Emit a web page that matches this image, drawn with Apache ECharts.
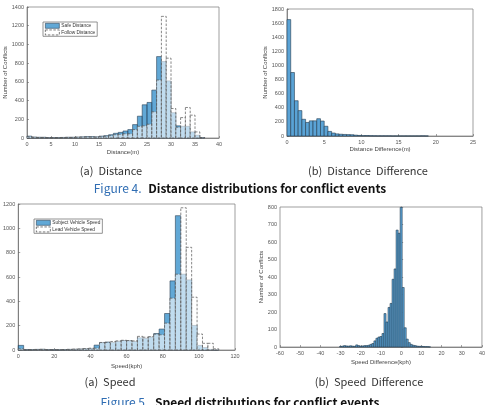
<!DOCTYPE html>
<html>
  <head>
    <meta charset="utf-8">
    <script src="https://cdn.jsdelivr.net/npm/echarts@6/dist/echarts.min.js"></script>
    <style>
      body { margin: 0; background: #fff; }
    </style>
  </head>
  <body>
    <div id="main" style="width: 488px;height:405px;"></div>
    <script type="text/javascript">
      // histogram counts (bin width noted next to each)
      // distance, 1 m bins from 0
      var safeDistance = [20, 10, 8, 8, 5, 5, 5, 6, 8, 8, 10, 12, 15, 15, 12, 20, 25, 35, 50, 60,
        75, 90, 143, 233, 355, 380, 512, 870, 817, 610, 270, 130, 125, 125, 65, 30, 5];
      var followDistance = [15, 8, 5, 5, 4, 4, 4, 5, 6, 6, 8, 10, 12, 12, 10, 15, 18, 25, 35, 40,
        45, 45, 90, 125, 130, 147, 280, 620, 1300, 853, 315, 115, 218, 326, 244, 65, 5];
      // distance difference, 0.5 m bins from 0
      var distanceDiff = [1650, 900, 500, 360, 237, 192, 215, 215, 245, 212, 138, 65, 42, 30, 25, 22,
        20, 18, 12, 8, 5, 6, 4, 3, 2, 2, 2, 2, 1, 1, 1, 1, 1, 1, 1, 1, 2, 1];
      // speed, 3 kph bins from 0
      var subjectSpeed = [38, 3, 3, 5, 6, 3, 2, 2, 3, 5, 6, 8, 10, 12, 40, 60, 65, 62, 70, 78, 75, 70,
        100, 95, 105, 135, 172, 300, 568, 1104, 623, 576, 202, 38, 20, 5, 2];
      var leadSpeed = [10, 2, 3, 4, 5, 3, 2, 3, 4, 5, 7, 8, 12, 15, 15, 62, 62, 70, 75, 80, 78, 75,
        112, 105, 110, 130, 125, 221, 426, 623, 1169, 844, 434, 131, 55, 55, 10];
      // speed difference, 1 kph bins from -30.5
      var speedDiff = [3, 5, 8, 6, 5, 7, 5, 4, 12, 8, 5, 6, 8, 8, 10, 15, 20, 35, 50, 57, 60, 77,
        191, 143, 226, 249, 387, 446, 668, 650, 798, 340, 110, 45, 25, 15, 10, 8, 5, 4, 4, 3, 2, 2, 1];

      var myChart = echarts.init(document.getElementById('main'));

      function bins(counts, start, width) {
        return counts.map(function (c, i) {
          return [start + i * width, start + (i + 1) * width, c];
        });
      }

      function histItem(params, api) {
        var p0 = api.coord([api.value(0), api.value(2)]);
        var p1 = api.coord([api.value(1), 0]);
        var st = api.style();
        return {
          type: 'rect',
          shape: { x: p0[0], y: p0[1], width: p1[0] - p0[0], height: p1[1] - p0[1] },
          style: st
        };
      }

      var tickFont = 'Liberation Sans';
      var plainNum = function (v) { return String(v); };
      function xAx(idx, min, max, interval, name, gap) {
        return {
          gridIndex: idx, type: 'value', min: min, max: max, interval: interval,
          name: name, nameLocation: 'middle', nameGap: gap,
          nameTextStyle: { fontSize: 6, color: '#444', fontFamily: tickFont },
          axisLine: { lineStyle: { color: '#666', width: 0.7 } },
          axisTick: { inside: true, length: 2, lineStyle: { color: '#666', width: 0.6 } },
          axisLabel: { fontSize: 5.5, color: '#555', margin: 3, fontFamily: tickFont, formatter: plainNum },
          splitLine: { show: false }
        };
      }
      function yAx(idx, max, interval, name) {
        return {
          gridIndex: idx, type: 'value', min: 0, max: max, interval: interval,
          name: name, nameLocation: 'middle', nameGap: 16,
          nameTextStyle: { fontSize: 6, color: '#444', fontFamily: tickFont },
          axisLine: { show: true, lineStyle: { color: '#666', width: 0.7 } },
          axisTick: { show: true, inside: true, length: 2, lineStyle: { color: '#666', width: 0.6 } },
          axisLabel: { fontSize: 5.5, color: '#555', margin: 3, fontFamily: tickFont, formatter: plainNum },
          splitLine: { show: false }
        };
      }

      var darkBar = { color: 'rgba(0,114,189,0.62)', borderColor: '#2b4256', borderWidth: 0.6 };
      var ghostBar = { color: 'rgba(255,255,255,0.6)', borderColor: '#555', borderWidth: 0.7, borderType: [2.5, 1.5] };
      var plainBar = { color: '#5aa3d6', borderColor: '#233a4e', borderWidth: 0.6 };

      function grid(l, t, w, h) {
        return { left: l, top: t, width: w, height: h, show: true, borderColor: '#777', borderWidth: 0.7, backgroundColor: '#fff' };
      }

      function legendBox(l, t, names) {
        return {
          left: l, top: t, orient: 'vertical', itemGap: 1, itemWidth: 14, itemHeight: 5,
          padding: [1, 2, 1, 2], backgroundColor: '#fff', borderColor: '#666', borderWidth: 0.7,
          selectedMode: false,
          textStyle: { fontSize: 4.8, color: '#333', fontFamily: tickFont, padding: [0, 0, 0, -3] },
          data: [
            { name: names[0], icon: 'rect', itemStyle: { color: 'rgba(0,114,189,0.62)', borderColor: '#2b4256', borderWidth: 0.6 } },
            { name: names[1], icon: 'rect', itemStyle: { color: '#fff', borderColor: '#444', borderWidth: 0.7, borderType: [2.5, 1.5] } }
          ]
        };
      }

      function subCaption(x, y, text) {
        return {
          type: 'text', x: x, y: y,
          style: { text: text, fill: '#333', fontSize: 11, fontFamily: 'Noto Sans CJK KR', textAlign: 'center', textVerticalAlign: 'middle' }
        };
      }
      function figCaption(y, num, text) {
        return {
          type: 'text', x: 240, y: y,
          style: {
            text: '{n|Figure ' + num + '.}  {t|' + text + '}',
            textAlign: 'center', textVerticalAlign: 'middle',
            rich: {
              n: { fill: '#2f6db3', fontSize: 12, fontFamily: 'Noto Sans CJK KR' },
              t: { fill: '#111', fontSize: 12, fontWeight: 'bold', fontFamily: 'Noto Sans CJK KR' }
            }
          }
        };
      }

      option = {
        animation: false,
        backgroundColor: '#fff',
        grid: [
          grid(27, 7, 192, 131),
          grid(287, 9, 186, 127),
          grid(17, 204, 218, 146),
          grid(280, 207, 204, 140)
        ],
        xAxis: [
          xAx(0, 0, 40, 5, 'Distance(m)', 11),
          xAx(1, 0, 25, 5, 'Distance Difference(m)', 10),
          xAx(2, 0, 120, 20, 'Speed(kph)', 13),
          xAx(3, -60, 40, 10, 'Speed Difference(kph)', 12)
        ],
        yAxis: [
          yAx(0, 1400, 200, 'Number of Conflicts'),
          yAx(1, 1800, 200, 'Number of Conflicts'),
          yAx(2, 1200, 200, ''),
          yAx(3, 800, 100, 'Number of Conflicts')
        ],
        legend: [
          legendBox(43, 22, ['Safe Distance', 'Follow Distance']),
          legendBox(34, 219, ['Subject Vehicle Speed', 'Lead Vehicle Speed'])
        ],
        series: [
          { name: 'Safe Distance', type: 'custom', xAxisIndex: 0, yAxisIndex: 0, renderItem: histItem,
            itemStyle: darkBar, encode: { x: [0, 1], y: 2 }, data: bins(safeDistance, 0, 1) },
          { name: 'Follow Distance', type: 'custom', xAxisIndex: 0, yAxisIndex: 0, renderItem: histItem,
            itemStyle: ghostBar, encode: { x: [0, 1], y: 2 }, data: bins(followDistance, 0, 1) },
          { name: 'Distance Difference', type: 'custom', xAxisIndex: 1, yAxisIndex: 1, renderItem: histItem,
            itemStyle: plainBar, encode: { x: [0, 1], y: 2 }, data: bins(distanceDiff, 0, 0.5) },
          { name: 'Subject Vehicle Speed', type: 'custom', xAxisIndex: 2, yAxisIndex: 2, renderItem: histItem,
            itemStyle: darkBar, encode: { x: [0, 1], y: 2 }, data: bins(subjectSpeed, 0, 3) },
          { name: 'Lead Vehicle Speed', type: 'custom', xAxisIndex: 2, yAxisIndex: 2, renderItem: histItem,
            itemStyle: ghostBar, encode: { x: [0, 1], y: 2 }, data: bins(leadSpeed, 0, 3) },
          { name: 'Speed Difference', type: 'custom', xAxisIndex: 3, yAxisIndex: 3, renderItem: histItem,
            itemStyle: plainBar, encode: { x: [0, 1], y: 2 }, data: bins(speedDiff, -30.5, 1) }
        ],
        graphic: [
          subCaption(111, 171, '(a)  Distance'),
          subCaption(368, 171, '(b)  Distance  Difference'),
          figCaption(188, '4', 'Distance distributions for conflict events'),
          subCaption(110, 382, '(a)  Speed'),
          subCaption(369, 382, '(b)  Speed  Difference'),
          figCaption(402, '5', 'Speed distributions for conflict events')
        ]
      };
      myChart.setOption(option);
    </script>
  </body>
</html>
